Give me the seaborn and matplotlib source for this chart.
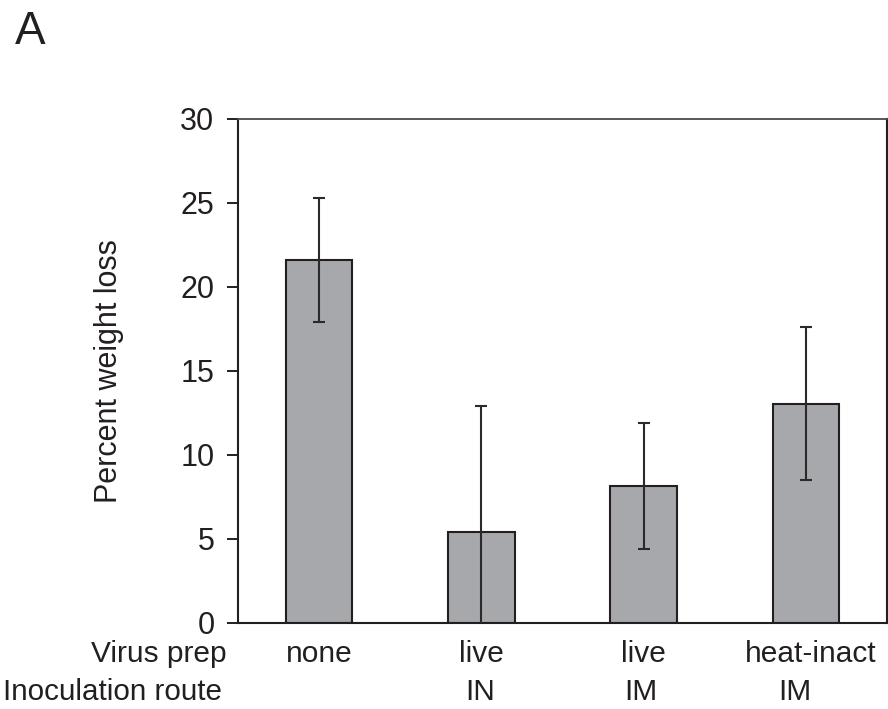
import matplotlib
matplotlib.use("Agg")
import matplotlib.pyplot as plt
import seaborn as sns
import pandas as pd

# ---- data ----
virus_prep = ["none", "live", "live", "heat-inact"]
inoc_route = ["", "IN", "IM", "IM"]
weight_loss = [21.6, 5.4, 8.15, 13.05]
err = [3.68, 7.53, 3.75, 4.56]
yticks = [0, 5, 10, 15, 20, 25, 30]

sns.set_theme(style="white")
plt.rcParams["font.family"] = ["Liberation Sans", "DejaVu Sans"]

DARK = "#231f20"
FILL = "#a7a8ab"

fig = plt.figure(figsize=(8.88, 7.09), dpi=100)
ax = fig.add_axes([238 / 888, 1 - 623 / 709, (887 - 238) / 888, (623 - 118.5) / 709])

df = pd.DataFrame({"cat": [f"{v}_{i}" for i, v in enumerate(virus_prep)],
                   "val": weight_loss})
sns.barplot(data=df, x="cat", y="val", color=FILL, width=0.41,
            edgecolor=DARK, linewidth=1.5, saturation=1, ax=ax, errorbar=None)
for p in ax.patches:
    p.set_facecolor(FILL)

ax.errorbar(range(len(weight_loss)), weight_loss, yerr=err, fmt="none",
            ecolor="#2a2a2a", elinewidth=1.5, capsize=4.6, capthick=1.5, zorder=5)

ax.set_xlim(-0.5, len(weight_loss) - 0.5)
ax.set_ylim(0, 30)
ax.set_yticks(yticks)
ax.set_yticklabels([str(t) for t in yticks], fontsize=22, color=DARK)
ax.set_xticks([])
ax.set_xlabel("")
ax.set_ylabel("Percent weight loss", fontsize=22, color=DARK)
ax.yaxis.set_label_coords(-0.176, 0.5)
ax.tick_params(axis="y", direction="out", length=8, width=1.4, color=DARK,
               pad=9, left=True)

for s in ["left", "right", "bottom"]:
    ax.spines[s].set_visible(True)
    ax.spines[s].set_color(DARK)
    ax.spines[s].set_linewidth(1.5)
ax.spines["top"].set_visible(True)
ax.spines["top"].set_color("#4a4a4a")
ax.spines["top"].set_linewidth(1.3)

# category labels (two rows)
row1_y = (623 - 662) / 504.5
row2_y = (623 - 700) / 504.5
row2_dx = [0, -0.01, -0.02, -0.07]
for i, (vp, rt) in enumerate(zip(virus_prep, inoc_route)):
    ax.annotate(vp, xy=(i + (0.03 if i == 3 else 0.0), row1_y),
                xycoords=("data", "axes fraction"),
                ha="center", va="baseline", fontsize=21.5, color=DARK,
                annotation_clip=False)
    if rt:
        ax.annotate(rt, xy=(i + row2_dx[i], row2_y),
                    xycoords=("data", "axes fraction"),
                    ha="center", va="baseline", fontsize=21.5, color=DARK,
                    annotation_clip=False)

ax.text(-0.017, row1_y, "Virus prep", transform=ax.transAxes, ha="right",
        va="baseline", fontsize=21.5, color=DARK)
ax.text(-0.024, row2_y, "Inoculation route", transform=ax.transAxes, ha="right",
        va="baseline", fontsize=21.3, color=DARK)

fig.text(15 / 888, 1 - 44 / 709, "A", ha="left", va="baseline", fontsize=33,
         color=DARK)

fig.savefig("out.png", dpi=100, facecolor="white")
